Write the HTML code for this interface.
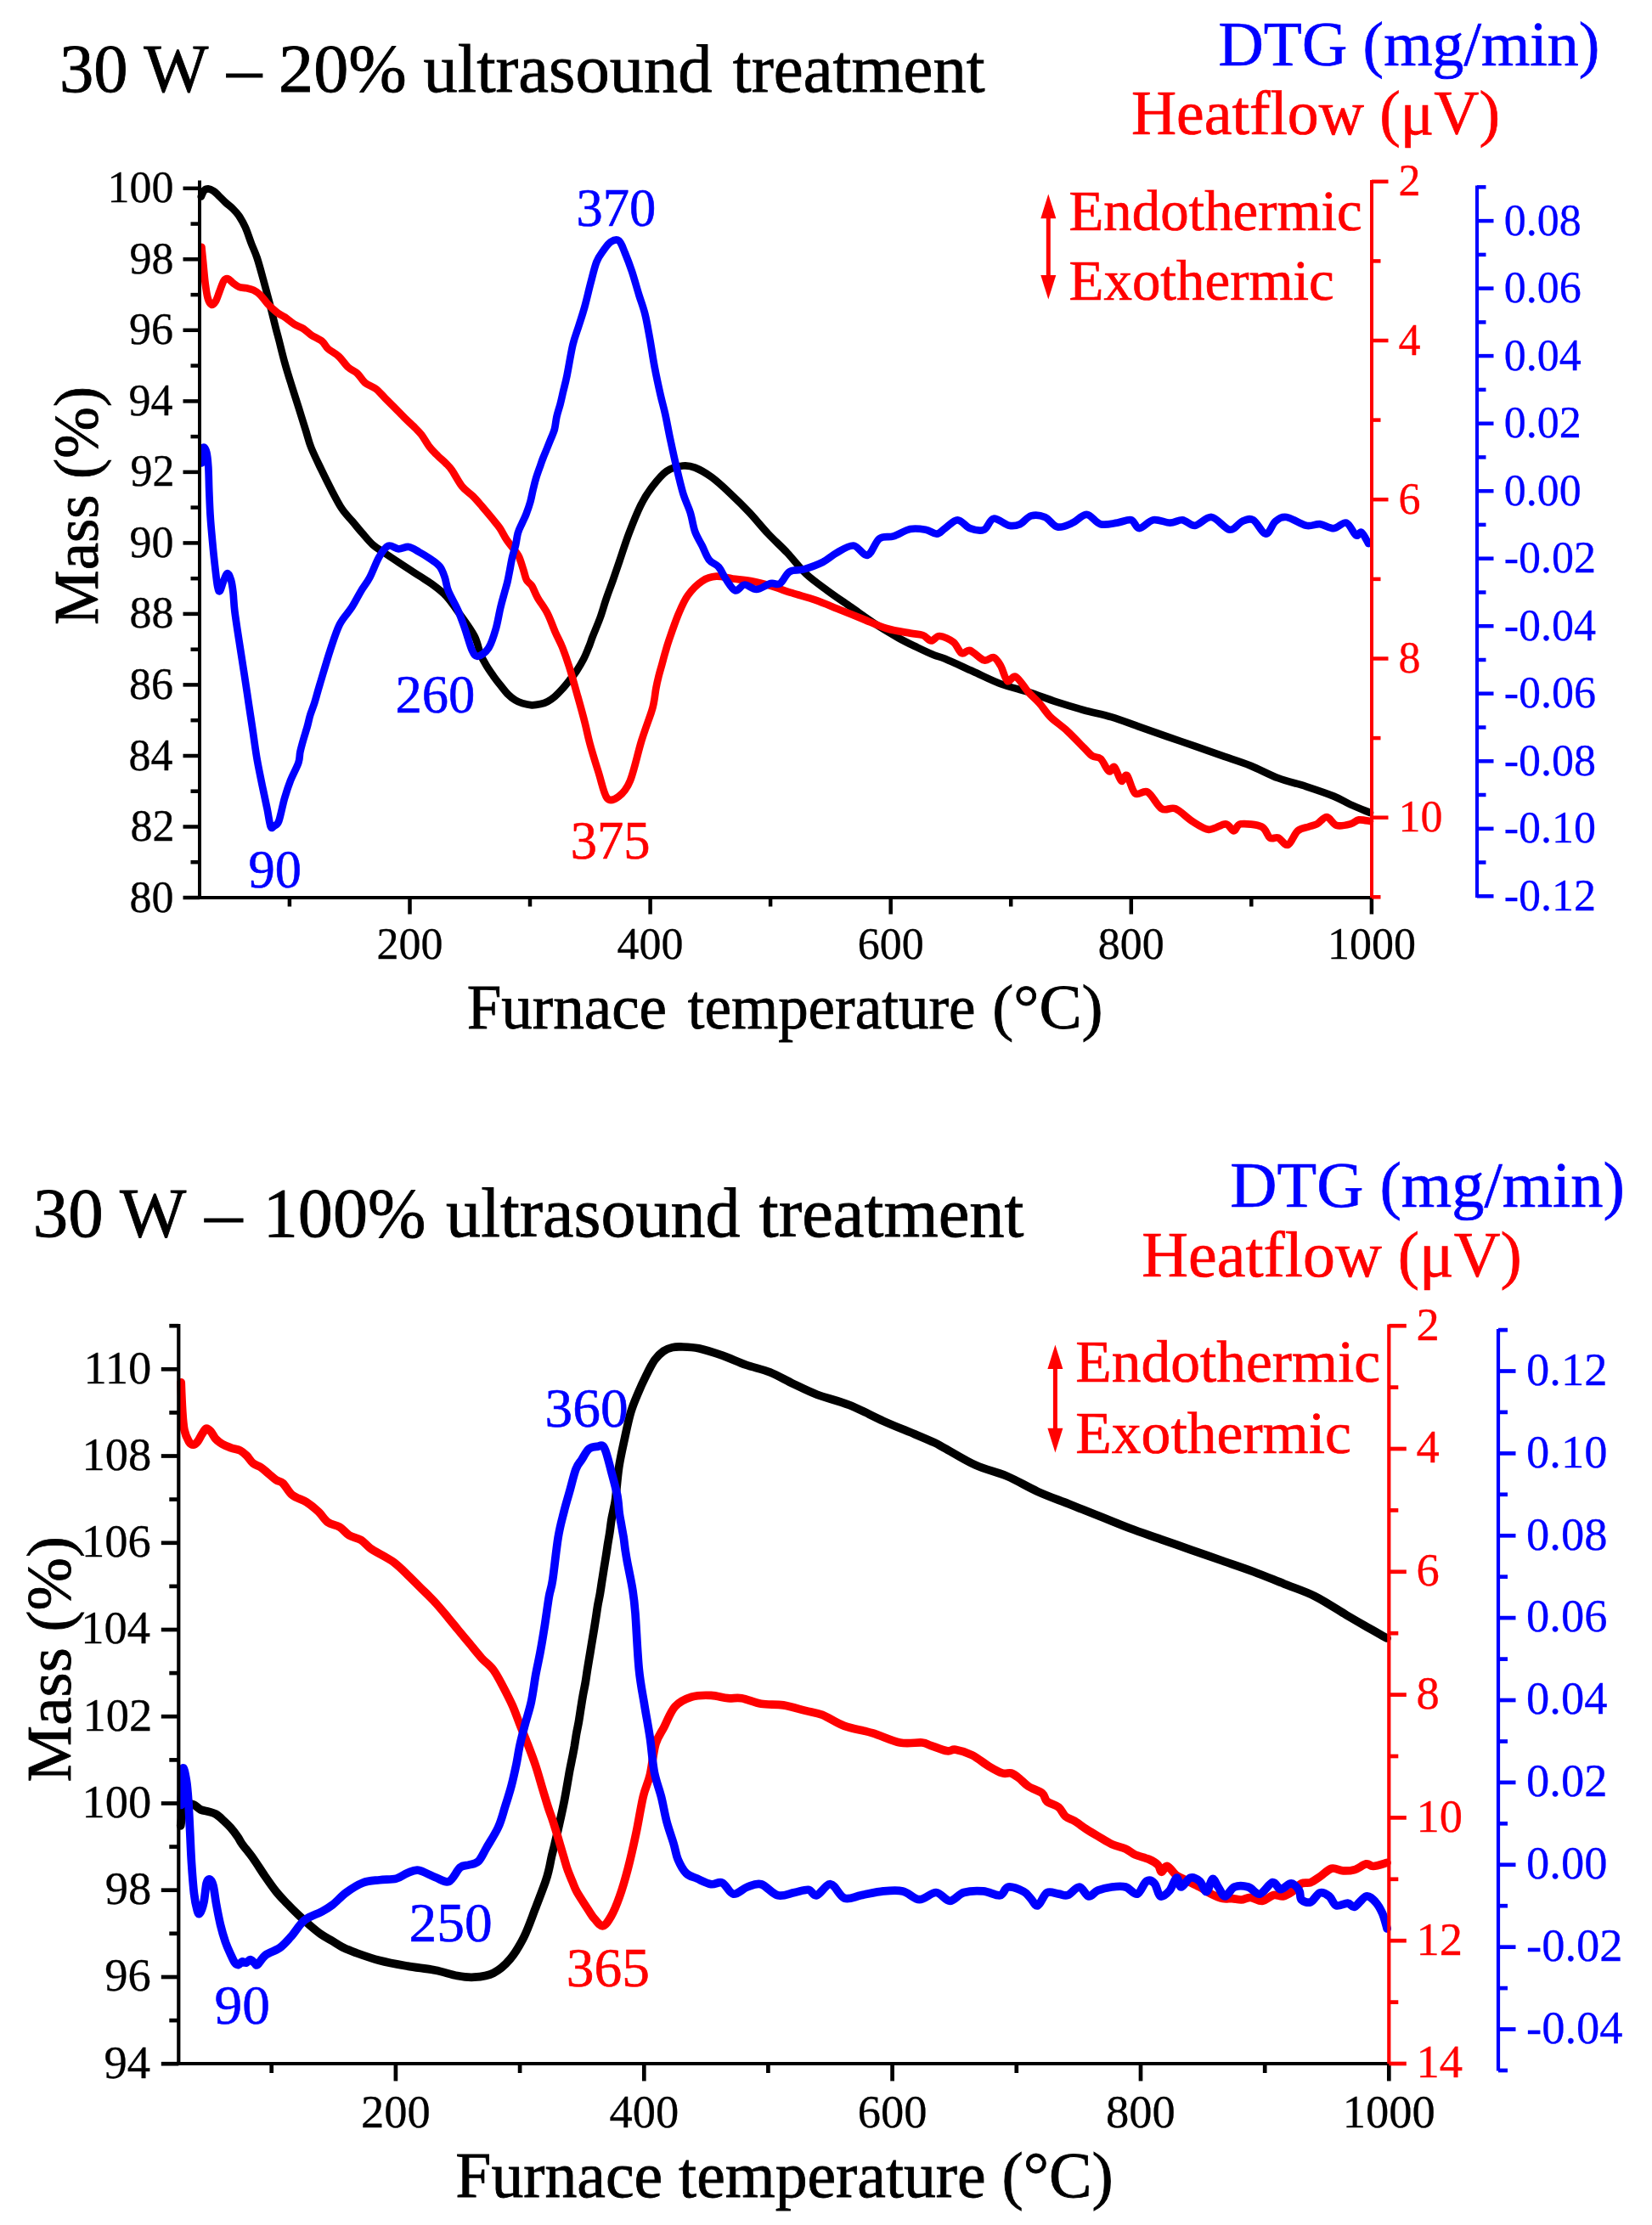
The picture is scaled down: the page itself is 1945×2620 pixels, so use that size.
<!DOCTYPE html>
<html><head><meta charset="utf-8"><title>TGA/DTG/Heatflow</title>
<style>html,body{margin:0;padding:0;background:#fff}svg{display:block}text{font-family:'Liberation Serif','Times New Roman',serif}</style></head>
<body><svg xmlns="http://www.w3.org/2000/svg" width="1945" height="2620" viewBox="0 0 1945 2620">
<rect width="1945" height="2620" fill="#fff"/>
<text transform="translate(73.8,108.3) scale(0.9988,1)" x="-3.9" y="0" font-size="80.8" fill="#000" stroke="#000" stroke-width="0.8" style="white-space:pre">30 W</text>
<text transform="translate(266.3,108.3) scale(1.0253,1)" x="0.6" y="0" font-size="80.8" fill="#000" stroke="#000" stroke-width="0.8" style="white-space:pre">–</text>
<text transform="translate(331.7,108.3) scale(1.0175,1)" x="-3.6" y="0" font-size="80.8" fill="#000" stroke="#000" stroke-width="0.8" style="white-space:pre">20%</text>
<text transform="translate(499.6,108.3) scale(0.9966,1)" x="-1.1" y="0" font-size="80.8" fill="#000" stroke="#000" stroke-width="0.8" style="white-space:pre">ultrasound</text>
<text transform="translate(863.6,108.3) scale(0.9726,1)" x="-0.8" y="0" font-size="80.8" fill="#000" stroke="#000" stroke-width="0.8" style="white-space:pre">treatment</text>
<text transform="translate(1436.7,76.9) scale(1.0078,1)" x="-2.1" y="0" font-size="73.2" fill="#00f" stroke="#00f" stroke-width="0.7" style="white-space:pre">DTG (mg/min)</text>
<text transform="translate(1334.0,158.0) scale(1.0061,1)" x="-2.1" y="0" font-size="73.2" fill="#f00" stroke="#f00" stroke-width="0.7" style="white-space:pre">Heatflow (μV)</text>
<text transform="translate(1260.5,270.7) scale(0.9831,1)" x="-2.0" y="0" font-size="68.0" fill="#f00" stroke="#f00" stroke-width="0.7" style="white-space:pre">Endothermic</text>
<text transform="translate(1260.5,352.6) scale(0.9844,1)" x="-2.0" y="0" font-size="68.0" fill="#f00" stroke="#f00" stroke-width="0.7" style="white-space:pre">Exothermic</text>
<line x1="1234.3" y1="255.2" x2="1234.3" y2="325.9" stroke="#f00" stroke-width="5" stroke-linecap="butt"/>
<polygon points="1234.3,228.5 1243.3,257.2 1225.3,257.2" fill="#f00"/>
<polygon points="1234.3,352.6 1243.3,323.9 1225.3,323.9" fill="#f00"/>
<text transform="translate(114.9,734.0) rotate(-90) scale(0.9871,1)" x="-2.1" y="0" font-size="73.8" fill="#000" stroke="#000" stroke-width="0.8">Mass (%)</text>
<text transform="translate(551.7,1210.8) scale(0.9878,1)" x="-2.1" y="0" font-size="74.0" fill="#000" stroke="#000" stroke-width="0.8" style="white-space:pre">Furnace</text>
<text transform="translate(810.4,1210.8) scale(0.9590,1)" x="-0.7" y="0" font-size="74.0" fill="#000" stroke="#000" stroke-width="0.8" style="white-space:pre">temperature</text>
<text transform="translate(1171.7,1210.8) scale(1.0152,1)" x="-3.3" y="0" font-size="74.0" fill="#000" stroke="#000" stroke-width="0.8" style="white-space:pre">(°C)</text>
<path d="M236.8,231.5 C237.4,230.3 239.0,225.7 240.4,224.2 C241.8,222.7 243.5,222.3 245.3,222.4 C247.1,222.5 249.3,223.5 251.3,224.8 C253.3,226.1 255.0,228.0 257.4,230.3 C259.8,232.6 263.1,236.1 265.9,238.7 C268.7,241.3 271.7,243.4 274.3,246.0 C276.9,248.6 279.2,250.9 281.6,254.5 C284.0,258.1 286.5,262.4 288.9,267.8 C291.3,273.2 293.8,281.2 296.1,287.2 C298.4,293.1 300.3,296.6 302.6,303.5 C304.9,310.4 307.5,320.1 309.9,328.9 C312.3,337.7 314.8,346.8 317.2,356.2 C319.6,365.6 322.5,377.9 324.4,385.2 C326.2,392.5 326.5,393.0 328.3,400.0 C330.1,407.0 332.7,418.0 335.2,427.0 C337.7,436.0 340.5,444.9 343.3,453.9 C346.1,462.9 349.1,471.9 351.9,480.9 C354.7,489.9 357.9,500.2 360.3,507.9 C362.7,515.6 363.3,519.5 366.3,527.0 C369.3,534.5 374.4,544.8 378.4,553.2 C382.4,561.6 386.5,569.7 390.5,577.4 C394.5,585.1 398.6,593.2 402.6,599.2 C406.6,605.2 410.6,608.9 414.7,613.7 C418.8,618.5 422.8,623.6 426.9,628.2 C430.9,632.8 435.0,637.9 439.0,641.5 C443.0,645.1 446.1,646.6 451.1,650.0 C456.1,653.4 462.1,657.5 469.2,662.1 C476.2,666.8 486.8,673.6 493.4,677.9 C499.9,682.2 503.2,683.8 508.5,687.8 C513.8,691.8 519.6,695.8 525.2,701.8 C530.8,707.8 536.3,716.1 541.9,724.0 C547.5,731.9 554.6,741.3 558.6,749.1 C562.6,756.9 563.6,765.2 566.0,771.0 C568.4,776.8 570.2,779.5 572.7,783.7 C575.2,787.9 578.4,792.4 581.2,796.4 C584.0,800.4 586.9,804.0 589.7,807.5 C592.5,811.0 595.3,814.8 598.1,817.6 C600.9,820.4 603.8,822.6 606.6,824.4 C609.4,826.2 611.9,827.2 615.1,828.2 C618.4,829.2 622.6,830.1 626.1,830.3 C629.6,830.4 633.2,829.8 636.3,829.1 C639.4,828.4 641.9,827.6 644.7,826.1 C647.5,824.6 650.4,822.6 653.2,820.2 C656.0,817.8 658.9,814.8 661.7,811.7 C664.5,808.6 667.4,805.0 670.2,801.5 C673.0,798.0 675.8,794.7 678.6,790.5 C681.4,786.3 684.5,781.2 687.1,776.1 C689.7,771.0 692.2,764.4 694.0,760.0 C695.8,755.6 695.5,755.3 697.6,749.9 C699.7,744.5 703.9,734.9 706.6,727.4 C709.3,719.9 711.2,712.5 713.8,705.0 C716.3,697.5 719.3,690.0 721.9,682.5 C724.5,675.0 726.5,669.0 729.6,660.0 C732.7,651.0 736.2,639.4 740.3,628.6 C744.4,617.8 749.6,604.5 754.2,595.2 C758.8,585.9 763.0,579.6 768.1,572.9 C773.2,566.2 778.8,558.9 784.8,554.8 C790.8,550.7 798.3,549.2 803.9,548.5 C809.5,547.8 812.6,548.4 818.2,550.6 C823.8,552.8 830.7,556.7 837.7,561.8 C844.7,566.9 852.6,574.3 860.0,581.3 C867.4,588.2 874.9,595.6 882.3,603.5 C889.7,611.4 897.1,620.7 904.5,628.6 C911.9,636.5 919.4,643.0 926.8,650.9 C934.2,658.8 941.2,668.5 949.1,675.9 C957.0,683.3 965.4,688.9 974.2,695.4 C983.0,701.9 992.7,708.4 1002.0,714.9 C1011.3,721.4 1020.6,728.4 1029.9,734.4 C1039.2,740.4 1049.4,746.4 1057.7,751.1 C1066.0,755.8 1073.0,759.0 1080.0,762.4 C1087.0,765.8 1094.5,769.3 1100.0,771.5 C1105.5,773.7 1105.1,772.6 1112.7,775.8 C1120.3,779.0 1134.5,785.6 1145.4,790.5 C1156.3,795.4 1167.2,801.1 1178.1,805.2 C1189.0,809.3 1199.9,811.5 1210.8,815.0 C1221.7,818.5 1232.6,822.9 1243.5,826.4 C1254.4,829.9 1265.2,833.2 1276.1,836.2 C1287.0,839.2 1297.9,841.1 1308.8,844.4 C1319.7,847.7 1330.6,852.0 1341.5,855.8 C1352.4,859.6 1363.3,863.5 1374.2,867.3 C1385.1,871.1 1396.0,874.9 1406.9,878.7 C1417.8,882.5 1428.7,886.4 1439.6,890.2 C1450.5,894.0 1461.4,897.2 1472.3,901.6 C1483.2,906.0 1494.1,912.2 1505.0,916.3 C1515.9,920.4 1526.8,922.5 1537.7,926.1 C1548.6,929.7 1561.7,934.1 1570.4,937.6 C1579.1,941.1 1582.9,944.2 1590.0,947.4 C1597.1,950.6 1609.2,955.4 1613.0,957.0" fill="none" stroke="#000" stroke-width="8.7" stroke-linejoin="round" stroke-linecap="round"/>
<path d="M237.4,290.8 C237.7,293.8 238.5,301.9 239.2,309.0 C239.9,316.1 240.7,326.1 241.6,333.2 C242.5,340.2 243.5,347.1 244.7,351.3 C245.9,355.5 247.4,358.0 248.9,358.6 C250.4,359.2 252.2,357.6 253.8,355.0 C255.4,352.4 257.0,346.9 258.6,342.9 C260.2,338.9 261.8,333.2 263.4,330.8 C265.0,328.4 266.5,327.9 268.3,328.3 C270.1,328.7 272.1,331.6 274.3,333.2 C276.5,334.8 279.0,337.0 281.6,338.0 C284.2,339.0 287.3,338.6 290.1,339.2 C292.9,339.8 295.8,340.3 298.5,341.6 C301.2,342.9 303.5,344.4 306.3,347.1 C309.1,349.8 312.0,354.5 315.3,358.0 C318.6,361.5 322.9,365.4 326.2,368.0 C329.5,370.6 332.0,371.1 335.3,373.4 C338.6,375.7 342.6,379.3 346.2,381.6 C349.8,383.9 353.8,384.9 357.1,387.0 C360.4,389.1 362.6,391.9 366.2,394.3 C369.8,396.7 375.6,398.9 378.9,401.6 C382.2,404.3 382.9,407.6 386.2,410.6 C389.5,413.6 395.0,416.1 398.9,419.7 C402.8,423.3 406.2,429.1 409.8,432.4 C413.4,435.7 417.4,436.7 420.7,439.7 C424.0,442.7 426.1,447.6 429.7,450.6 C433.3,453.6 438.6,454.9 442.5,457.9 C446.4,460.9 449.8,465.2 453.4,468.8 C457.0,472.4 460.3,475.7 464.2,479.6 C468.1,483.5 473.0,488.8 476.7,492.4 C480.4,496.0 482.9,498.1 486.2,501.3 C489.4,504.6 492.9,507.7 496.2,511.9 C499.4,516.1 502.4,522.1 505.7,526.3 C508.9,530.5 512.5,533.8 515.7,537.0 C519.0,540.2 522.4,543.0 525.2,545.8 C528.0,548.6 529.2,549.5 532.3,554.0 C535.4,558.5 539.9,567.6 544.0,572.7 C548.1,577.8 553.0,580.5 556.9,584.4 C560.8,588.3 563.7,591.8 567.4,596.1 C571.1,600.4 575.6,605.8 579.1,610.1 C582.6,614.4 585.5,617.5 588.4,621.8 C591.3,626.1 593.4,631.1 596.6,635.8 C599.8,640.5 605.0,646.6 607.5,650.0 C610.0,653.4 609.8,652.8 611.3,656.3 C612.8,659.8 614.8,666.4 616.2,670.9 C617.7,675.4 618.3,679.8 620.0,683.0 C621.7,686.2 624.2,686.6 626.3,690.0 C628.4,693.4 629.8,698.2 632.8,703.6 C635.8,709.0 641.0,715.4 644.5,722.2 C648.0,729.0 650.9,737.8 653.8,744.4 C656.7,751.0 659.3,755.2 662.0,762.0 C664.7,768.8 667.1,775.5 670.2,785.3 C673.3,795.1 677.3,809.8 680.4,820.8 C683.5,831.8 686.4,842.3 688.7,851.4 C691.0,860.5 691.8,865.7 694.4,875.3 C697.0,884.9 701.2,898.5 704.6,909.2 C708.0,919.9 710.8,934.9 714.7,939.7 C718.7,944.5 723.8,941.4 728.3,938.0 C732.8,934.6 737.4,930.3 741.9,919.3 C746.4,908.3 751.2,885.4 755.4,871.9 C759.6,858.4 764.5,845.9 767.0,838.1 C769.5,830.4 769.2,829.9 770.1,825.4 C771.0,820.9 771.4,815.8 772.3,810.9 C773.2,806.0 774.3,801.1 775.5,796.3 C776.7,791.4 778.2,786.6 779.5,781.8 C780.8,777.0 782.1,771.9 783.5,767.3 C784.9,762.6 785.1,761.2 787.6,753.9 C790.1,746.6 795.0,732.1 798.7,723.3 C802.4,714.5 805.2,707.5 809.9,701.0 C814.5,694.5 821.0,688.0 826.6,684.3 C832.2,680.6 837.3,679.2 843.3,678.7 C849.3,678.2 855.8,680.6 862.8,681.5 C869.8,682.4 877.6,682.9 885.0,684.3 C892.4,685.7 899.4,687.6 907.3,689.9 C915.2,692.2 923.6,695.4 932.4,698.2 C941.2,701.0 950.9,703.4 960.2,706.6 C969.5,709.9 978.8,714.0 988.1,717.7 C997.4,721.4 1006.6,725.2 1015.9,728.9 C1025.2,732.6 1034.5,737.2 1043.8,740.0 C1053.1,742.8 1064.5,744.3 1071.6,745.6 C1078.7,746.9 1082.4,746.5 1086.5,748.0 C1090.6,749.5 1093.0,754.3 1096.3,754.5 C1099.6,754.7 1101.8,748.7 1106.2,749.0 C1110.6,749.3 1118.2,752.7 1122.5,756.1 C1126.8,759.5 1129.0,767.6 1132.3,769.2 C1135.6,770.9 1137.7,764.6 1142.1,766.0 C1146.5,767.4 1153.9,776.0 1158.5,777.4 C1163.1,778.8 1166.6,773.0 1169.9,774.1 C1173.2,775.2 1175.4,779.3 1178.1,783.9 C1180.8,788.5 1183.2,799.7 1186.2,801.9 C1189.2,804.1 1192.0,794.8 1196.1,797.0 C1200.2,799.2 1206.2,809.8 1210.8,815.0 C1215.4,820.2 1219.4,823.2 1223.8,828.1 C1228.2,833.0 1231.5,839.0 1236.9,844.4 C1242.4,849.8 1250.0,854.7 1256.5,860.7 C1263.0,866.7 1271.2,875.5 1276.1,880.4 C1281.0,885.3 1282.7,888.0 1286.0,890.2 C1289.3,892.4 1292.5,890.4 1295.8,893.4 C1299.1,896.4 1302.9,906.5 1305.6,908.1 C1308.3,909.8 1309.6,901.4 1312.1,903.3 C1314.5,905.2 1317.8,918.0 1320.3,919.6 C1322.8,921.2 1324.1,910.7 1326.8,913.1 C1329.5,915.5 1332.5,931.0 1336.6,934.3 C1340.7,937.6 1346.1,929.7 1351.3,932.7 C1356.5,935.7 1362.2,949.0 1367.7,952.3 C1373.2,955.6 1378.0,949.8 1384.0,952.3 C1390.0,954.8 1397.0,962.9 1403.6,967.0 C1410.1,971.1 1416.8,976.2 1423.3,976.8 C1429.8,977.3 1438.0,970.0 1442.9,970.3 C1447.8,970.6 1449.7,978.4 1452.7,978.4 C1455.7,978.4 1455.3,971.1 1460.8,970.3 C1466.2,969.5 1479.7,970.8 1485.4,973.5 C1491.1,976.2 1491.9,984.4 1495.2,986.6 C1498.5,988.8 1501.5,985.2 1505.0,986.6 C1508.5,988.0 1512.6,996.2 1516.4,994.8 C1520.2,993.4 1523.8,981.9 1527.9,978.4 C1532.0,974.9 1537.1,974.9 1540.9,973.5 C1544.7,972.1 1547.2,972.2 1550.7,970.3 C1554.2,968.4 1558.4,961.8 1562.2,962.1 C1566.0,962.4 1569.0,970.5 1573.6,971.9 C1578.2,973.3 1585.6,971.4 1590.0,970.3 C1594.4,969.2 1596.0,965.9 1599.8,965.4 C1603.6,964.9 1610.8,966.7 1613.0,967.0" fill="none" stroke="#f00" stroke-width="8.7" stroke-linejoin="round" stroke-linecap="round"/>
<path d="M237.4,545.5 C237.7,542.5 238.3,529.4 239.3,527.2 C240.3,525.1 242.3,528.9 243.3,532.6 C244.3,536.3 244.8,541.8 245.3,549.5 C245.8,557.2 245.9,569.2 246.3,579.1 C246.7,589.0 247.0,598.9 247.7,608.8 C248.3,618.7 249.4,629.4 250.2,638.5 C251.0,647.6 251.7,654.5 252.7,663.2 C253.7,671.9 255.1,685.5 256.2,690.9 C257.3,696.3 257.9,697.1 259.1,695.8 C260.3,694.5 262.1,686.3 263.6,682.9 C265.1,679.5 266.6,675.1 268.0,675.1 C269.4,675.1 270.9,679.2 272.0,683.0 C273.1,686.8 273.8,691.6 274.5,697.8 C275.2,704.0 275.2,710.6 276.4,720.1 C277.6,729.6 279.6,742.4 281.5,754.7 C283.4,767.0 285.7,781.7 287.6,793.9 C289.5,806.1 291.0,816.5 292.7,827.8 C294.4,839.1 296.1,850.4 297.8,861.7 C299.5,873.0 300.9,884.3 302.9,895.6 C304.9,906.9 307.7,919.9 309.7,929.5 C311.7,939.1 313.2,945.9 314.7,953.2 C316.2,960.6 317.4,970.4 318.8,973.6 C320.2,976.8 321.4,973.6 323.0,972.5 C324.6,971.4 326.3,972.3 328.3,966.8 C330.3,961.3 332.8,947.6 335.1,939.7 C337.4,931.8 339.2,926.2 341.9,919.3 C344.6,912.4 349.5,903.8 351.4,898.1 C353.3,892.5 352.4,889.9 353.4,885.4 C354.4,880.9 355.8,875.8 357.2,870.9 C358.6,866.0 360.2,861.1 361.6,856.3 C363.0,851.4 363.8,846.6 365.3,841.8 C366.8,837.0 368.5,833.3 370.4,827.3 C372.3,821.3 373.4,816.2 376.5,806.0 C379.6,795.8 384.8,777.6 388.7,765.8 C392.6,754.0 395.7,743.6 399.9,735.2 C404.1,726.9 409.6,722.2 413.8,715.7 C418.0,709.2 421.3,702.2 424.9,696.2 C428.5,690.2 431.8,686.7 435.3,680.0 C438.9,673.3 442.6,662.3 446.2,656.1 C449.8,649.9 453.3,644.4 457.1,642.8 C460.9,641.2 465.2,646.2 469.2,646.4 C473.2,646.6 477.3,643.4 481.3,644.0 C485.3,644.6 489.4,647.8 493.4,650.0 C497.4,652.2 501.4,654.5 505.5,657.3 C509.6,660.1 514.7,663.2 517.7,667.0 C520.7,670.8 522.0,675.1 523.7,680.0 C525.4,684.9 525.4,689.8 528.0,696.2 C530.6,702.6 535.9,711.1 539.1,718.5 C542.4,725.9 544.7,732.9 547.5,740.8 C550.3,748.7 553.2,760.5 555.8,765.8 C558.3,771.1 559.5,773.3 562.8,772.8 C566.0,772.3 571.8,768.3 575.3,763.0 C578.8,757.7 581.4,748.7 583.7,740.8 C586.0,732.9 587.5,722.8 589.2,715.7 C590.9,708.6 592.5,703.2 593.9,698.1 C595.3,693.0 596.3,689.9 597.4,685.4 C598.5,680.9 599.3,675.8 600.3,670.9 C601.2,666.0 602.0,661.1 603.1,656.3 C604.2,651.4 606.0,646.6 607.1,641.8 C608.2,637.0 608.6,631.5 609.9,627.3 C611.1,623.0 613.0,619.9 614.6,616.3 C616.2,612.6 617.9,609.6 619.5,605.4 C621.1,601.2 623.0,595.8 624.4,590.9 C625.8,586.0 626.5,581.1 627.7,576.3 C628.9,571.4 630.0,566.6 631.5,561.8 C633.0,557.0 635.2,551.1 636.5,547.3 C637.8,543.5 638.2,542.2 639.5,539.0 C640.8,535.8 642.5,531.8 644.0,528.0 C645.5,524.2 647.2,520.1 648.7,516.3 C650.2,512.5 651.8,509.6 652.9,505.4 C654.0,501.2 654.3,495.8 655.4,490.9 C656.5,486.0 658.2,481.1 659.5,476.3 C660.8,471.5 661.6,467.5 662.9,461.8 C664.2,456.1 665.6,451.6 667.5,442.3 C669.4,433.0 672.1,415.9 674.4,406.1 C676.7,396.4 679.1,391.2 681.4,383.8 C683.7,376.4 686.0,369.9 688.3,361.5 C690.6,353.1 693.0,342.5 695.3,333.7 C697.6,324.9 699.8,315.1 702.3,308.6 C704.8,302.1 707.8,298.6 710.6,294.7 C713.4,290.8 716.0,286.8 719.0,284.9 C722.0,283.0 725.9,281.4 728.7,283.5 C731.5,285.6 733.2,291.5 735.7,297.5 C738.2,303.5 741.2,311.3 744.0,319.7 C746.8,328.1 749.8,339.2 752.4,347.6 C755.0,356.0 757.3,361.5 759.4,369.9 C761.5,378.2 763.0,387.5 764.9,397.7 C766.8,407.9 768.4,420.0 770.5,431.1 C772.6,442.2 775.4,455.2 777.5,464.5 C779.6,473.8 781.1,478.4 783.0,486.8 C784.9,495.2 786.5,504.5 788.6,514.7 C790.8,524.9 793.3,536.7 795.9,547.8 C798.5,558.9 801.5,572.0 804.3,581.3 C807.1,590.6 810.4,596.1 812.7,603.5 C815.0,610.9 815.9,619.3 818.2,625.8 C820.5,632.3 823.8,636.9 826.6,642.5 C829.4,648.1 831.6,655.0 834.9,659.2 C838.1,663.4 842.9,663.9 846.1,667.6 C849.4,671.3 851.1,676.9 854.4,681.5 C857.6,686.1 861.9,694.2 865.6,695.4 C869.3,696.6 872.5,688.7 876.7,688.5 C880.9,688.3 885.5,694.2 890.6,694.0 C895.7,693.8 902.6,688.2 907.3,687.1 C911.9,686.0 914.8,689.4 918.5,687.1 C922.2,684.8 925.0,676.0 929.6,673.2 C934.2,670.4 939.8,672.3 946.3,670.4 C952.8,668.5 962.1,665.2 968.6,662.0 C975.1,658.8 979.3,654.1 985.3,650.9 C991.3,647.6 998.8,642.0 1004.8,642.5 C1010.8,643.0 1016.4,655.1 1021.5,653.7 C1026.6,652.3 1030.3,637.9 1035.4,634.2 C1040.5,630.5 1046.1,633.3 1052.1,631.4 C1058.1,629.5 1065.3,624.3 1071.6,623.0 C1077.9,621.7 1084.6,622.8 1089.8,623.7 C1095.0,624.6 1099.1,628.9 1102.9,628.6 C1106.7,628.3 1108.6,624.8 1112.7,622.1 C1116.8,619.4 1122.5,612.3 1127.4,612.3 C1132.3,612.3 1136.9,620.2 1142.1,622.1 C1147.3,624.0 1153.9,625.6 1158.5,623.7 C1163.1,621.8 1165.0,611.5 1169.9,610.7 C1174.8,609.9 1182.7,617.7 1187.9,618.8 C1193.1,619.9 1196.7,619.1 1201.0,617.2 C1205.3,615.3 1209.1,608.8 1214.0,607.4 C1218.9,606.0 1225.2,606.8 1230.4,609.0 C1235.6,611.2 1239.6,619.4 1245.1,620.5 C1250.5,621.6 1257.4,618.1 1263.1,615.6 C1268.8,613.1 1274.0,605.5 1279.4,605.8 C1284.9,606.1 1289.8,615.6 1295.8,617.2 C1301.8,618.8 1309.4,616.4 1315.4,615.6 C1321.4,614.8 1327.4,611.2 1331.7,612.3 C1336.0,613.4 1337.1,622.1 1341.5,622.1 C1345.9,622.1 1351.9,613.4 1357.9,612.3 C1363.9,611.2 1371.8,615.6 1377.5,615.6 C1383.2,615.6 1387.3,611.8 1392.2,612.3 C1397.1,612.8 1401.2,619.3 1406.9,618.8 C1412.6,618.2 1419.7,608.2 1426.5,609.0 C1433.3,609.8 1441.8,622.9 1447.8,623.7 C1453.8,624.5 1457.9,615.8 1462.5,613.9 C1467.1,612.0 1470.9,609.8 1475.5,612.3 C1480.1,614.8 1485.9,628.3 1490.3,628.6 C1494.7,628.9 1497.6,617.2 1501.7,613.9 C1505.8,610.6 1508.8,608.2 1514.8,609.0 C1520.8,609.8 1531.2,617.4 1537.7,618.8 C1544.2,620.2 1548.5,616.7 1554.0,617.2 C1559.5,617.8 1565.2,622.4 1570.4,622.1 C1575.6,621.8 1580.8,614.2 1585.1,615.6 C1589.4,617.0 1593.5,628.4 1596.5,630.3 C1599.5,632.2 1600.5,625.4 1603.0,627.0 C1605.5,628.6 1609.8,637.9 1611.2,640.1" fill="none" stroke="#00f" stroke-width="8.7" stroke-linejoin="round" stroke-linecap="round"/>
<line x1="235.0" y1="212.5" x2="235.0" y2="1059.0" stroke="#000" stroke-width="4" stroke-linecap="butt"/>
<line x1="215.5" y1="1057.0" x2="235.0" y2="1057.0" stroke="#000" stroke-width="4.5" stroke-linecap="butt"/>
<text x="152.5" y="1073.5" font-size="52.0" fill="#000" stroke="#000" stroke-width="0.3" style="white-space:pre">80</text>
<line x1="215.5" y1="973.5" x2="235.0" y2="973.5" stroke="#000" stroke-width="4.5" stroke-linecap="butt"/>
<text x="153.4" y="990.0" font-size="52.0" fill="#000" stroke="#000" stroke-width="0.3" style="white-space:pre">82</text>
<line x1="215.5" y1="890.0" x2="235.0" y2="890.0" stroke="#000" stroke-width="4.5" stroke-linecap="butt"/>
<text x="151.4" y="906.5" font-size="52.0" fill="#000" stroke="#000" stroke-width="0.3" style="white-space:pre">84</text>
<line x1="215.5" y1="806.4" x2="235.0" y2="806.4" stroke="#000" stroke-width="4.5" stroke-linecap="butt"/>
<text x="152.1" y="822.9" font-size="52.0" fill="#000" stroke="#000" stroke-width="0.3" style="white-space:pre">86</text>
<line x1="215.5" y1="722.9" x2="235.0" y2="722.9" stroke="#000" stroke-width="4.5" stroke-linecap="butt"/>
<text x="152.5" y="739.4" font-size="52.0" fill="#000" stroke="#000" stroke-width="0.3" style="white-space:pre">88</text>
<line x1="215.5" y1="639.4" x2="235.0" y2="639.4" stroke="#000" stroke-width="4.5" stroke-linecap="butt"/>
<text x="152.5" y="655.9" font-size="52.0" fill="#000" stroke="#000" stroke-width="0.3" style="white-space:pre">90</text>
<line x1="215.5" y1="555.9" x2="235.0" y2="555.9" stroke="#000" stroke-width="4.5" stroke-linecap="butt"/>
<text x="153.4" y="572.4" font-size="52.0" fill="#000" stroke="#000" stroke-width="0.3" style="white-space:pre">92</text>
<line x1="215.5" y1="472.4" x2="235.0" y2="472.4" stroke="#000" stroke-width="4.5" stroke-linecap="butt"/>
<text x="151.4" y="488.9" font-size="52.0" fill="#000" stroke="#000" stroke-width="0.3" style="white-space:pre">94</text>
<line x1="215.5" y1="388.8" x2="235.0" y2="388.8" stroke="#000" stroke-width="4.5" stroke-linecap="butt"/>
<text x="152.1" y="405.3" font-size="52.0" fill="#000" stroke="#000" stroke-width="0.3" style="white-space:pre">96</text>
<line x1="215.5" y1="305.3" x2="235.0" y2="305.3" stroke="#000" stroke-width="4.5" stroke-linecap="butt"/>
<text x="152.5" y="321.8" font-size="52.0" fill="#000" stroke="#000" stroke-width="0.3" style="white-space:pre">98</text>
<line x1="215.5" y1="221.8" x2="235.0" y2="221.8" stroke="#000" stroke-width="4.5" stroke-linecap="butt"/>
<text x="126.5" y="238.3" font-size="52.0" fill="#000" stroke="#000" stroke-width="0.3" style="white-space:pre">100</text>
<line x1="224.5" y1="1015.2" x2="235.0" y2="1015.2" stroke="#000" stroke-width="4.5" stroke-linecap="butt"/>
<line x1="224.5" y1="931.7" x2="235.0" y2="931.7" stroke="#000" stroke-width="4.5" stroke-linecap="butt"/>
<line x1="224.5" y1="848.2" x2="235.0" y2="848.2" stroke="#000" stroke-width="4.5" stroke-linecap="butt"/>
<line x1="224.5" y1="764.7" x2="235.0" y2="764.7" stroke="#000" stroke-width="4.5" stroke-linecap="butt"/>
<line x1="224.5" y1="681.2" x2="235.0" y2="681.2" stroke="#000" stroke-width="4.5" stroke-linecap="butt"/>
<line x1="224.5" y1="597.6" x2="235.0" y2="597.6" stroke="#000" stroke-width="4.5" stroke-linecap="butt"/>
<line x1="224.5" y1="514.1" x2="235.0" y2="514.1" stroke="#000" stroke-width="4.5" stroke-linecap="butt"/>
<line x1="224.5" y1="430.6" x2="235.0" y2="430.6" stroke="#000" stroke-width="4.5" stroke-linecap="butt"/>
<line x1="224.5" y1="347.1" x2="235.0" y2="347.1" stroke="#000" stroke-width="4.5" stroke-linecap="butt"/>
<line x1="224.5" y1="263.6" x2="235.0" y2="263.6" stroke="#000" stroke-width="4.5" stroke-linecap="butt"/>
<line x1="233.0" y1="1057.0" x2="1615.0" y2="1057.0" stroke="#000" stroke-width="4" stroke-linecap="butt"/>
<line x1="482.5" y1="1057.0" x2="482.5" y2="1076.5" stroke="#000" stroke-width="4.5" stroke-linecap="butt"/>
<text x="443.5" y="1128.7" font-size="52.0" fill="#000" stroke="#000" stroke-width="0.3" style="white-space:pre">200</text>
<line x1="765.6" y1="1057.0" x2="765.6" y2="1076.5" stroke="#000" stroke-width="4.5" stroke-linecap="butt"/>
<text x="726.6" y="1128.7" font-size="52.0" fill="#000" stroke="#000" stroke-width="0.3" style="white-space:pre">400</text>
<line x1="1048.7" y1="1057.0" x2="1048.7" y2="1076.5" stroke="#000" stroke-width="4.5" stroke-linecap="butt"/>
<text x="1009.7" y="1128.7" font-size="52.0" fill="#000" stroke="#000" stroke-width="0.3" style="white-space:pre">600</text>
<line x1="1331.8" y1="1057.0" x2="1331.8" y2="1076.5" stroke="#000" stroke-width="4.5" stroke-linecap="butt"/>
<text x="1292.8" y="1128.7" font-size="52.0" fill="#000" stroke="#000" stroke-width="0.3" style="white-space:pre">800</text>
<line x1="1614.9" y1="1057.0" x2="1614.9" y2="1076.5" stroke="#000" stroke-width="4.5" stroke-linecap="butt"/>
<text x="1562.9" y="1128.7" font-size="52.0" fill="#000" stroke="#000" stroke-width="0.3" style="white-space:pre">1000</text>
<line x1="340.9" y1="1057.0" x2="340.9" y2="1067.5" stroke="#000" stroke-width="4.5" stroke-linecap="butt"/>
<line x1="624.0" y1="1057.0" x2="624.0" y2="1067.5" stroke="#000" stroke-width="4.5" stroke-linecap="butt"/>
<line x1="907.1" y1="1057.0" x2="907.1" y2="1067.5" stroke="#000" stroke-width="4.5" stroke-linecap="butt"/>
<line x1="1190.2" y1="1057.0" x2="1190.2" y2="1067.5" stroke="#000" stroke-width="4.5" stroke-linecap="butt"/>
<line x1="1473.3" y1="1057.0" x2="1473.3" y2="1067.5" stroke="#000" stroke-width="4.5" stroke-linecap="butt"/>
<line x1="1615.0" y1="212.0" x2="1615.0" y2="1057.0" stroke="#f00" stroke-width="4" stroke-linecap="butt"/>
<line x1="1615.0" y1="213.8" x2="1634.5" y2="213.8" stroke="#f00" stroke-width="4.5" stroke-linecap="butt"/>
<text x="1646.5" y="230.3" font-size="52.0" fill="#f00" stroke="#f00" stroke-width="0.3" style="white-space:pre">2</text>
<line x1="1615.0" y1="401.0" x2="1634.5" y2="401.0" stroke="#f00" stroke-width="4.5" stroke-linecap="butt"/>
<text x="1646.5" y="417.5" font-size="52.0" fill="#f00" stroke="#f00" stroke-width="0.3" style="white-space:pre">4</text>
<line x1="1615.0" y1="588.2" x2="1634.5" y2="588.2" stroke="#f00" stroke-width="4.5" stroke-linecap="butt"/>
<text x="1646.5" y="604.7" font-size="52.0" fill="#f00" stroke="#f00" stroke-width="0.3" style="white-space:pre">6</text>
<line x1="1615.0" y1="775.5" x2="1634.5" y2="775.5" stroke="#f00" stroke-width="4.5" stroke-linecap="butt"/>
<text x="1646.5" y="792.0" font-size="52.0" fill="#f00" stroke="#f00" stroke-width="0.3" style="white-space:pre">8</text>
<line x1="1615.0" y1="962.7" x2="1634.5" y2="962.7" stroke="#f00" stroke-width="4.5" stroke-linecap="butt"/>
<text x="1646.5" y="979.2" font-size="52.0" fill="#f00" stroke="#f00" stroke-width="0.3" style="white-space:pre">10</text>
<line x1="1615.0" y1="307.4" x2="1625.5" y2="307.4" stroke="#f00" stroke-width="4.5" stroke-linecap="butt"/>
<line x1="1615.0" y1="494.6" x2="1625.5" y2="494.6" stroke="#f00" stroke-width="4.5" stroke-linecap="butt"/>
<line x1="1615.0" y1="681.9" x2="1625.5" y2="681.9" stroke="#f00" stroke-width="4.5" stroke-linecap="butt"/>
<line x1="1615.0" y1="869.1" x2="1625.5" y2="869.1" stroke="#f00" stroke-width="4.5" stroke-linecap="butt"/>
<line x1="1615.0" y1="1056.3" x2="1625.5" y2="1056.3" stroke="#f00" stroke-width="4.5" stroke-linecap="butt"/>
<line x1="1739.0" y1="218.5" x2="1739.0" y2="1057.0" stroke="#00f" stroke-width="4" stroke-linecap="butt"/>
<line x1="1739.0" y1="260.1" x2="1758.5" y2="260.1" stroke="#00f" stroke-width="4.5" stroke-linecap="butt"/>
<text x="1770.8" y="276.6" font-size="52.0" fill="#00f" stroke="#00f" stroke-width="0.3" style="white-space:pre">0.08</text>
<line x1="1739.0" y1="339.6" x2="1758.5" y2="339.6" stroke="#00f" stroke-width="4.5" stroke-linecap="butt"/>
<text x="1770.8" y="356.1" font-size="52.0" fill="#00f" stroke="#00f" stroke-width="0.3" style="white-space:pre">0.06</text>
<line x1="1739.0" y1="419.1" x2="1758.5" y2="419.1" stroke="#00f" stroke-width="4.5" stroke-linecap="butt"/>
<text x="1770.8" y="435.6" font-size="52.0" fill="#00f" stroke="#00f" stroke-width="0.3" style="white-space:pre">0.04</text>
<line x1="1739.0" y1="498.7" x2="1758.5" y2="498.7" stroke="#00f" stroke-width="4.5" stroke-linecap="butt"/>
<text x="1770.8" y="515.2" font-size="52.0" fill="#00f" stroke="#00f" stroke-width="0.3" style="white-space:pre">0.02</text>
<line x1="1739.0" y1="578.2" x2="1758.5" y2="578.2" stroke="#00f" stroke-width="4.5" stroke-linecap="butt"/>
<text x="1770.8" y="594.7" font-size="52.0" fill="#00f" stroke="#00f" stroke-width="0.3" style="white-space:pre">0.00</text>
<line x1="1739.0" y1="657.7" x2="1758.5" y2="657.7" stroke="#00f" stroke-width="4.5" stroke-linecap="butt"/>
<text x="1770.8" y="674.2" font-size="52.0" fill="#00f" stroke="#00f" stroke-width="0.3" style="white-space:pre">-0.02</text>
<line x1="1739.0" y1="737.2" x2="1758.5" y2="737.2" stroke="#00f" stroke-width="4.5" stroke-linecap="butt"/>
<text x="1770.8" y="753.7" font-size="52.0" fill="#00f" stroke="#00f" stroke-width="0.3" style="white-space:pre">-0.04</text>
<line x1="1739.0" y1="816.7" x2="1758.5" y2="816.7" stroke="#00f" stroke-width="4.5" stroke-linecap="butt"/>
<text x="1770.8" y="833.2" font-size="52.0" fill="#00f" stroke="#00f" stroke-width="0.3" style="white-space:pre">-0.06</text>
<line x1="1739.0" y1="896.3" x2="1758.5" y2="896.3" stroke="#00f" stroke-width="4.5" stroke-linecap="butt"/>
<text x="1770.8" y="912.8" font-size="52.0" fill="#00f" stroke="#00f" stroke-width="0.3" style="white-space:pre">-0.08</text>
<line x1="1739.0" y1="975.8" x2="1758.5" y2="975.8" stroke="#00f" stroke-width="4.5" stroke-linecap="butt"/>
<text x="1770.8" y="992.3" font-size="52.0" fill="#00f" stroke="#00f" stroke-width="0.3" style="white-space:pre">-0.10</text>
<line x1="1739.0" y1="1055.3" x2="1758.5" y2="1055.3" stroke="#00f" stroke-width="4.5" stroke-linecap="butt"/>
<text x="1770.8" y="1071.8" font-size="52.0" fill="#00f" stroke="#00f" stroke-width="0.3" style="white-space:pre">-0.12</text>
<line x1="1739.0" y1="220.3" x2="1749.5" y2="220.3" stroke="#00f" stroke-width="4.5" stroke-linecap="butt"/>
<line x1="1739.0" y1="299.9" x2="1749.5" y2="299.9" stroke="#00f" stroke-width="4.5" stroke-linecap="butt"/>
<line x1="1739.0" y1="379.4" x2="1749.5" y2="379.4" stroke="#00f" stroke-width="4.5" stroke-linecap="butt"/>
<line x1="1739.0" y1="458.9" x2="1749.5" y2="458.9" stroke="#00f" stroke-width="4.5" stroke-linecap="butt"/>
<line x1="1739.0" y1="538.4" x2="1749.5" y2="538.4" stroke="#00f" stroke-width="4.5" stroke-linecap="butt"/>
<line x1="1739.0" y1="617.9" x2="1749.5" y2="617.9" stroke="#00f" stroke-width="4.5" stroke-linecap="butt"/>
<line x1="1739.0" y1="697.5" x2="1749.5" y2="697.5" stroke="#00f" stroke-width="4.5" stroke-linecap="butt"/>
<line x1="1739.0" y1="777.0" x2="1749.5" y2="777.0" stroke="#00f" stroke-width="4.5" stroke-linecap="butt"/>
<line x1="1739.0" y1="856.5" x2="1749.5" y2="856.5" stroke="#00f" stroke-width="4.5" stroke-linecap="butt"/>
<line x1="1739.0" y1="936.0" x2="1749.5" y2="936.0" stroke="#00f" stroke-width="4.5" stroke-linecap="butt"/>
<line x1="1739.0" y1="1015.5" x2="1749.5" y2="1015.5" stroke="#00f" stroke-width="4.5" stroke-linecap="butt"/>
<text transform="translate(42.7,1455.5) scale(1.0112,1)" x="-3.9" y="0" font-size="82.0" fill="#000" stroke="#000" stroke-width="0.8" style="white-space:pre">30 W</text>
<text transform="translate(240.7,1455.5) scale(1.0793,1)" x="0.6" y="0" font-size="82.0" fill="#000" stroke="#000" stroke-width="0.8" style="white-space:pre">–</text>
<text transform="translate(317.0,1455.5) scale(1.0021,1)" x="-7.2" y="0" font-size="82.0" fill="#000" stroke="#000" stroke-width="0.8" style="white-space:pre">100%</text>
<text transform="translate(526.2,1455.5) scale(1.0007,1)" x="-1.1" y="0" font-size="82.0" fill="#000" stroke="#000" stroke-width="0.8" style="white-space:pre">ultrasound</text>
<text transform="translate(894.5,1455.5) scale(1.0073,1)" x="-0.8" y="0" font-size="82.0" fill="#000" stroke="#000" stroke-width="0.8" style="white-space:pre">treatment</text>
<text transform="translate(1450.5,1421.3) scale(0.9920,1)" x="-2.2" y="0" font-size="77.0" fill="#00f" stroke="#00f" stroke-width="0.7" style="white-space:pre">DTG (mg/min)</text>
<text transform="translate(1346.5,1502.7) scale(0.9989,1)" x="-2.2" y="0" font-size="76.0" fill="#f00" stroke="#f00" stroke-width="0.7" style="white-space:pre">Heatflow (μV)</text>
<text transform="translate(1268.3,1626.6) scale(0.9928,1)" x="-2.0" y="0" font-size="70.0" fill="#f00" stroke="#f00" stroke-width="0.7" style="white-space:pre">Endothermic</text>
<text transform="translate(1268.3,1711.3) scale(0.9942,1)" x="-2.0" y="0" font-size="70.0" fill="#f00" stroke="#f00" stroke-width="0.7" style="white-space:pre">Exothermic</text>
<line x1="1242.4" y1="1610.1" x2="1242.4" y2="1683.8" stroke="#f00" stroke-width="5" stroke-linecap="butt"/>
<polygon points="1242.4,1583.4 1251.4,1612.1 1233.4,1612.1" fill="#f00"/>
<polygon points="1242.4,1710.5 1251.4,1681.8 1233.4,1681.8" fill="#f00"/>
<text transform="translate(82.8,2096.3) rotate(-90) scale(0.9998,1)" x="-2.2" y="0" font-size="75.0" fill="#000" stroke="#000" stroke-width="0.8">Mass (%)</text>
<text transform="translate(538.5,2587.0) scale(1.0030,1)" x="-2.2" y="0" font-size="75.5" fill="#000" stroke="#000" stroke-width="0.8" style="white-space:pre">Furnace temperature (°C)</text>
<path d="M212.7,2149.8 C213.2,2146.6 214.5,2134.7 215.8,2130.4 C217.1,2126.2 218.6,2125.2 220.6,2124.3 C222.6,2123.4 225.3,2123.8 227.9,2124.9 C230.5,2126.0 233.4,2129.6 236.4,2131.0 C239.4,2132.4 243.1,2132.5 246.1,2133.4 C249.1,2134.3 251.8,2134.8 254.6,2136.5 C257.4,2138.2 260.3,2141.1 263.1,2143.7 C265.9,2146.3 268.8,2148.9 271.6,2152.2 C274.4,2155.4 277.9,2160.0 280.1,2163.2 C282.3,2166.4 281.9,2167.0 284.9,2171.2 C287.9,2175.4 293.8,2182.3 298.2,2188.5 C302.6,2194.7 307.1,2202.1 311.5,2208.5 C315.9,2214.9 320.4,2221.5 324.9,2227.1 C329.3,2232.7 333.8,2237.1 338.2,2241.8 C342.6,2246.5 347.1,2250.9 351.5,2255.1 C355.9,2259.3 360.4,2263.3 364.8,2267.1 C369.2,2270.9 373.7,2274.7 378.1,2277.8 C382.5,2280.9 386.9,2283.0 391.4,2285.7 C395.8,2288.3 400.4,2291.5 404.8,2293.7 C409.2,2295.9 411.1,2296.6 418.1,2299.1 C425.1,2301.6 436.6,2305.8 446.9,2308.5 C457.1,2311.2 468.7,2313.2 479.6,2315.1 C490.5,2317.0 502.5,2318.1 512.3,2320.0 C522.1,2321.9 530.8,2325.1 538.4,2326.5 C546.0,2327.9 551.0,2328.7 558.1,2328.2 C565.2,2327.7 573.8,2326.9 580.9,2323.3 C588.0,2319.8 594.6,2314.0 600.6,2306.9 C606.6,2299.8 612.0,2290.6 616.9,2280.8 C621.8,2271.0 625.8,2259.0 630.0,2248.1 C634.2,2237.2 639.6,2223.3 642.3,2215.4 C645.0,2207.5 645.2,2205.8 646.4,2200.9 C647.6,2196.1 648.3,2191.2 649.4,2186.3 C650.5,2181.5 651.5,2178.2 653.0,2171.8 C654.5,2165.4 656.6,2156.6 658.5,2148.0 C660.4,2139.4 662.9,2128.3 664.5,2120.0 C666.1,2111.7 667.4,2103.9 668.4,2098.1 C669.4,2092.3 669.8,2089.9 670.6,2085.4 C671.5,2080.9 672.5,2075.8 673.5,2070.9 C674.5,2066.1 675.4,2061.2 676.3,2056.3 C677.1,2051.5 677.8,2046.6 678.6,2041.8 C679.5,2037.0 680.4,2032.9 681.4,2027.3 C682.4,2021.7 683.5,2013.4 684.4,2008.1 C685.2,2002.8 685.7,1999.9 686.5,1995.4 C687.3,1990.9 688.5,1985.8 689.3,1980.9 C690.1,1976.1 690.7,1971.2 691.5,1966.3 C692.3,1961.4 693.1,1956.6 693.9,1951.8 C694.7,1947.0 695.4,1942.9 696.3,1937.3 C697.2,1931.7 698.6,1923.4 699.5,1918.1 C700.4,1912.8 700.8,1909.9 701.5,1905.4 C702.2,1900.9 702.9,1895.8 703.7,1890.9 C704.5,1886.1 705.7,1881.2 706.5,1876.3 C707.3,1871.4 708.0,1866.6 708.7,1861.8 C709.5,1857.0 710.2,1852.3 711.0,1847.3 C711.8,1842.3 712.7,1836.9 713.5,1832.0 C714.3,1827.1 714.9,1822.7 715.6,1818.0 C716.4,1813.3 717.3,1808.4 718.0,1803.6 C718.7,1798.8 719.2,1793.8 720.0,1789.0 C720.8,1784.2 722.2,1778.7 723.0,1774.5 C723.8,1770.3 723.8,1771.8 724.8,1764.0 C725.8,1756.2 726.9,1739.6 728.7,1727.7 C730.5,1715.8 733.4,1703.5 735.7,1692.7 C738.0,1681.9 740.1,1671.7 742.7,1662.9 C745.3,1654.1 748.5,1647.1 751.4,1640.1 C754.3,1633.1 757.0,1627.2 760.2,1620.8 C763.4,1614.4 767.2,1606.5 770.7,1601.5 C774.2,1596.5 777.7,1593.5 781.2,1591.0 C784.7,1588.5 788.3,1587.4 791.7,1586.6 C795.1,1585.8 796.3,1585.7 801.5,1585.9 C806.7,1586.1 814.6,1586.1 822.8,1587.8 C831.0,1589.5 841.3,1593.0 850.6,1596.2 C859.9,1599.5 869.2,1604.0 878.5,1607.3 C887.8,1610.5 897.0,1612.0 906.3,1615.7 C915.6,1619.4 924.9,1625.2 934.2,1629.6 C943.5,1634.0 951.0,1638.0 962.0,1642.2 C973.0,1646.4 987.0,1649.3 1000.0,1654.5 C1013.0,1659.7 1027.3,1667.6 1040.0,1673.3 C1052.7,1679.0 1066.3,1684.3 1076.3,1688.5 C1086.3,1692.7 1094.0,1695.9 1100.0,1698.7 C1106.0,1701.5 1104.4,1701.0 1112.6,1705.4 C1120.8,1709.9 1136.9,1720.0 1149.0,1725.4 C1161.1,1730.9 1173.2,1732.9 1185.3,1738.1 C1197.4,1743.2 1209.5,1750.8 1221.6,1756.3 C1233.7,1761.8 1245.8,1766.0 1257.9,1770.8 C1270.0,1775.6 1282.2,1780.5 1294.3,1785.3 C1306.4,1790.1 1318.5,1795.2 1330.6,1799.8 C1342.7,1804.3 1354.8,1808.3 1366.9,1812.6 C1379.0,1816.8 1391.1,1821.1 1403.2,1825.3 C1415.3,1829.5 1427.5,1833.8 1439.6,1838.0 C1451.7,1842.2 1463.8,1846.2 1475.9,1850.7 C1488.0,1855.2 1500.1,1860.4 1512.2,1865.2 C1524.3,1870.0 1536.4,1873.7 1548.5,1879.8 C1560.6,1885.9 1575.2,1895.8 1584.9,1901.6 C1594.6,1907.3 1598.7,1909.7 1606.7,1914.3 C1614.7,1918.9 1628.6,1926.5 1633.0,1929.0" fill="none" stroke="#000" stroke-width="9.7" stroke-linejoin="round" stroke-linecap="round"/>
<path d="M213.2,1627.8 C213.4,1633.3 214.1,1651.7 214.7,1661.0 C215.3,1670.3 215.7,1677.7 217.0,1683.8 C218.3,1689.9 220.6,1694.5 222.3,1697.4 C224.1,1700.3 225.8,1701.2 227.5,1701.2 C229.2,1701.2 231.0,1699.6 232.8,1697.4 C234.6,1695.2 236.4,1690.8 238.1,1688.3 C239.8,1685.8 241.0,1682.7 242.7,1682.2 C244.3,1681.7 246.1,1683.3 248.0,1685.3 C249.9,1687.3 251.7,1691.9 254.0,1694.4 C256.3,1696.9 258.6,1698.6 261.6,1700.4 C264.6,1702.2 268.7,1703.7 272.2,1705.0 C275.7,1706.3 279.8,1706.5 282.8,1708.0 C285.8,1709.5 287.9,1711.5 290.4,1714.0 C292.9,1716.5 295.1,1720.8 297.9,1723.1 C300.7,1725.4 304.0,1725.7 307.0,1727.7 C310.0,1729.7 313.1,1732.7 316.1,1735.2 C319.1,1737.7 322.4,1740.9 325.2,1742.8 C328.0,1744.7 329.9,1743.6 333.1,1746.6 C336.3,1749.5 339.6,1756.8 344.2,1760.5 C348.8,1764.2 355.9,1765.7 361.0,1768.9 C366.1,1772.2 370.7,1776.1 374.9,1780.0 C379.1,1783.9 381.8,1789.5 386.0,1792.5 C390.2,1795.5 395.7,1795.5 399.9,1798.1 C404.1,1800.6 406.9,1805.2 411.1,1807.8 C415.3,1810.3 420.8,1810.8 425.0,1813.4 C429.2,1816.0 431.5,1820.0 436.1,1823.2 C440.7,1826.5 448.2,1830.1 452.8,1832.9 C457.4,1835.7 459.8,1836.7 464.0,1839.9 C468.2,1843.2 472.8,1847.5 477.9,1852.4 C483.0,1857.3 489.0,1863.5 494.6,1869.1 C500.2,1874.7 505.7,1879.8 511.3,1885.8 C516.9,1891.8 523.4,1899.8 528.0,1905.3 C532.6,1910.8 535.0,1913.9 539.2,1919.0 C543.4,1924.1 548.5,1930.1 553.1,1935.7 C557.7,1941.3 562.4,1947.3 567.0,1952.4 C571.6,1957.5 576.7,1960.7 580.9,1966.3 C585.1,1971.9 588.4,1978.8 592.1,1985.8 C595.8,1992.8 599.9,2000.7 603.2,2008.1 C606.5,2015.5 608.8,2022.3 611.8,2030.0 C614.8,2037.7 618.4,2046.2 621.5,2054.3 C624.6,2062.4 627.7,2070.4 630.4,2078.5 C633.1,2086.6 635.3,2094.7 637.7,2102.8 C640.1,2110.9 642.9,2120.3 645.0,2127.0 C647.1,2133.7 648.8,2137.9 650.5,2143.0 C652.2,2148.1 653.5,2152.5 655.0,2157.3 C656.5,2162.1 657.9,2167.0 659.3,2171.8 C660.7,2176.6 662.1,2181.5 663.6,2186.3 C665.1,2191.2 666.3,2196.1 668.0,2200.9 C669.7,2205.8 671.9,2210.9 673.8,2215.4 C675.7,2219.9 676.3,2222.7 679.4,2228.1 C682.5,2233.5 688.7,2242.8 692.1,2248.1 C695.5,2253.3 697.0,2256.3 700.0,2259.6 C703.0,2262.9 706.5,2268.4 709.8,2267.8 C713.1,2267.2 716.3,2262.0 719.6,2256.3 C722.9,2250.6 726.1,2242.7 729.4,2233.4 C732.7,2224.1 735.9,2213.2 739.2,2200.7 C742.5,2188.2 746.0,2172.5 749.0,2158.3 C752.0,2144.2 754.5,2127.2 757.2,2115.8 C759.9,2104.4 763.0,2100.0 765.4,2089.6 C767.8,2079.2 769.2,2062.9 771.9,2053.6 C774.6,2044.3 777.9,2041.3 781.7,2034.0 C785.5,2026.7 789.3,2015.5 794.8,2009.5 C800.2,2003.5 807.3,2000.3 814.4,1998.1 C821.5,1995.9 830.2,1996.1 837.3,1996.4 C844.4,1996.7 850.9,1999.2 856.9,1999.7 C862.9,2000.2 866.8,1998.6 873.3,1999.7 C879.8,2000.8 887.9,2004.8 896.1,2006.2 C904.3,2007.6 913.6,2006.5 922.3,2007.9 C931.0,2009.3 940.8,2012.5 948.4,2014.4 C956.0,2016.3 960.5,2016.3 968.1,2019.3 C975.7,2022.3 984.4,2028.9 994.2,2032.4 C1004.0,2036.0 1016.0,2037.3 1026.9,2040.6 C1037.8,2043.9 1049.8,2050.1 1059.6,2052.0 C1069.4,2053.9 1079.7,2051.4 1085.7,2052.0 C1091.7,2052.6 1090.7,2053.7 1095.6,2055.3 C1100.5,2056.9 1110.3,2061.0 1115.2,2061.8 C1120.1,2062.6 1120.1,2059.4 1125.0,2060.2 C1129.9,2061.0 1138.1,2063.4 1144.6,2066.7 C1151.1,2070.0 1158.2,2076.2 1164.2,2079.8 C1170.2,2083.4 1176.1,2086.6 1180.5,2088.0 C1184.9,2089.4 1187.2,2087.0 1190.4,2088.0 C1193.7,2089.0 1196.6,2091.4 1200.0,2094.0 C1203.4,2096.6 1206.4,2100.6 1210.9,2103.5 C1215.4,2106.4 1223.6,2108.8 1227.2,2111.7 C1230.8,2114.6 1229.5,2118.5 1232.7,2121.2 C1235.9,2123.9 1242.7,2125.1 1246.3,2128.0 C1249.9,2130.9 1251.3,2136.2 1254.5,2138.9 C1257.7,2141.6 1261.3,2141.9 1265.4,2144.4 C1269.5,2146.9 1274.5,2151.0 1279.0,2153.9 C1283.5,2156.8 1287.6,2159.2 1292.6,2162.1 C1297.6,2165.0 1303.5,2169.1 1309.0,2171.6 C1314.5,2174.1 1320.8,2175.0 1325.3,2177.1 C1329.8,2179.2 1331.7,2181.9 1336.2,2183.9 C1340.7,2185.9 1348.0,2187.3 1352.5,2189.3 C1357.0,2191.3 1360.9,2193.6 1363.4,2196.1 C1365.9,2198.6 1365.7,2204.1 1367.5,2204.3 C1369.3,2204.5 1371.3,2196.8 1374.3,2197.5 C1377.2,2198.2 1381.6,2205.7 1385.2,2208.4 C1388.8,2211.1 1391.5,2211.5 1396.1,2213.8 C1400.6,2216.1 1407.5,2219.3 1412.5,2222.0 C1417.5,2224.7 1421.6,2227.9 1426.1,2230.2 C1430.6,2232.5 1435.6,2234.7 1439.7,2235.6 C1443.8,2236.5 1447.0,2235.4 1450.6,2235.6 C1454.2,2235.8 1457.9,2237.2 1461.5,2237.0 C1465.1,2236.8 1468.3,2234.1 1472.4,2234.3 C1476.5,2234.5 1481.5,2238.9 1486.0,2238.4 C1490.5,2237.9 1495.5,2232.4 1499.6,2231.5 C1503.7,2230.6 1506.9,2233.6 1510.5,2232.9 C1514.1,2232.2 1517.8,2230.0 1521.4,2227.5 C1525.0,2225.0 1528.7,2219.7 1532.3,2217.9 C1535.9,2216.1 1539.6,2217.9 1543.2,2216.6 C1546.8,2215.2 1550.0,2212.5 1554.1,2209.8 C1558.2,2207.1 1563.2,2201.3 1567.7,2200.2 C1572.2,2199.0 1576.9,2202.7 1581.4,2202.9 C1586.0,2203.1 1590.5,2202.9 1595.0,2201.6 C1599.5,2200.2 1605.0,2195.5 1608.6,2194.8 C1612.2,2194.1 1612.7,2197.7 1616.8,2197.5 C1620.9,2197.3 1630.3,2194.1 1633.0,2193.4" fill="none" stroke="#f00" stroke-width="9.7" stroke-linejoin="round" stroke-linecap="round"/>
<path d="M213.3,2125.5 C213.6,2118.4 214.2,2087.8 215.2,2083.0 C216.2,2078.2 218.3,2090.1 219.4,2096.4 C220.5,2102.7 221.1,2110.6 221.8,2120.7 C222.5,2130.8 223.1,2145.0 223.7,2157.1 C224.3,2169.2 224.7,2181.4 225.5,2193.5 C226.3,2205.6 227.4,2220.6 228.5,2229.9 C229.6,2239.2 231.1,2245.5 232.2,2249.3 C233.3,2253.2 233.9,2254.6 235.2,2253.0 C236.5,2251.4 238.7,2245.5 240.0,2239.6 C241.3,2233.7 242.0,2222.2 243.1,2217.8 C244.2,2213.4 245.4,2212.5 246.7,2212.9 C248.0,2213.3 249.7,2215.3 251.0,2220.2 C252.3,2225.0 253.2,2234.3 254.6,2242.0 C256.0,2249.7 257.7,2258.8 259.5,2266.3 C261.3,2273.8 263.5,2281.1 265.5,2287.0 C267.5,2292.9 269.8,2297.5 271.6,2301.5 C273.4,2305.5 275.0,2309.2 276.5,2311.2 C278.0,2313.2 279.3,2313.8 280.7,2313.6 C282.1,2313.4 283.5,2310.4 285.0,2310.0 C286.5,2309.6 288.2,2311.6 289.8,2311.2 C291.4,2310.8 293.1,2307.6 294.7,2307.6 C296.3,2307.6 298.1,2310.2 299.5,2311.2 C300.9,2312.2 300.9,2315.0 303.1,2313.5 C305.3,2312.0 308.5,2305.3 312.9,2302.0 C317.2,2298.7 324.3,2297.3 329.2,2293.8 C334.1,2290.3 337.4,2286.2 342.3,2280.8 C347.2,2275.4 352.6,2266.0 358.6,2261.1 C364.6,2256.2 372.9,2254.3 378.3,2251.3 C383.8,2248.3 386.4,2247.0 391.3,2243.2 C396.2,2239.4 401.7,2232.9 407.7,2228.5 C413.7,2224.1 420.8,2219.5 427.3,2217.0 C433.8,2214.5 440.4,2214.5 446.9,2213.7 C453.4,2212.9 461.1,2213.4 466.5,2212.1 C471.9,2210.8 475.2,2207.2 479.6,2205.6 C484.0,2204.0 487.2,2201.5 492.7,2202.3 C498.1,2203.1 506.3,2208.3 512.3,2210.5 C518.3,2212.7 523.7,2217.3 528.6,2215.4 C533.5,2213.5 537.8,2202.2 541.7,2199.0 C545.6,2195.8 548.4,2197.2 552.0,2196.0 C555.6,2194.8 559.7,2195.2 563.2,2191.8 C566.7,2188.4 569.0,2182.3 572.9,2175.6 C576.8,2168.9 583.1,2159.5 586.7,2151.4 C590.4,2143.3 592.2,2135.2 594.8,2127.1 C597.4,2119.0 600.0,2110.9 602.1,2102.8 C604.2,2094.7 606.0,2086.6 607.7,2078.5 C609.4,2070.4 610.4,2062.4 612.2,2054.3 C614.0,2046.2 616.1,2038.4 618.3,2030.0 C620.5,2021.6 623.3,2013.8 625.4,2004.1 C627.5,1994.4 629.0,1981.6 630.8,1971.7 C632.6,1961.8 634.4,1954.6 636.2,1944.7 C638.0,1934.8 639.9,1923.2 641.6,1912.4 C643.3,1901.6 644.9,1888.6 646.4,1880.0 C647.9,1871.4 648.8,1872.4 650.6,1860.8 C652.4,1849.2 654.9,1824.1 657.1,1810.6 C659.3,1797.1 661.7,1789.3 664.0,1780.0 C666.3,1770.7 668.7,1763.2 671.0,1754.9 C673.3,1746.6 675.7,1735.9 678.0,1729.9 C680.3,1723.9 682.4,1722.7 684.9,1718.7 C687.4,1714.8 690.3,1708.8 693.3,1706.2 C696.3,1703.7 700.0,1703.6 703.0,1703.4 C706.0,1703.2 708.6,1699.9 711.4,1704.8 C714.2,1709.7 717.2,1723.4 719.7,1732.7 C722.2,1742.0 725.1,1752.3 726.7,1760.5 C728.3,1768.7 728.4,1775.8 729.2,1781.8 C730.0,1787.8 730.9,1791.4 731.7,1796.3 C732.6,1801.2 733.5,1806.1 734.3,1810.9 C735.0,1815.8 735.5,1820.9 736.2,1825.4 C736.9,1829.9 736.9,1830.3 738.3,1838.1 C739.7,1845.8 743.2,1861.6 744.8,1871.9 C746.4,1882.2 746.8,1884.4 748.0,1900.0 C749.2,1915.6 750.5,1947.4 752.3,1965.4 C754.1,1983.4 756.6,1994.3 758.8,2007.9 C761.0,2021.5 763.5,2034.0 765.4,2047.1 C767.3,2060.2 768.1,2074.9 770.3,2086.3 C772.5,2097.8 776.0,2106.0 778.5,2115.8 C781.0,2125.6 782.5,2135.9 785.0,2145.2 C787.5,2154.4 791.0,2164.0 793.2,2171.3 C795.4,2178.7 795.7,2183.6 798.1,2189.3 C800.5,2195.0 804.1,2201.9 807.9,2205.7 C811.7,2209.5 816.1,2210.0 821.0,2212.2 C825.9,2214.4 832.4,2217.9 837.3,2218.7 C842.2,2219.5 846.0,2215.2 850.4,2217.1 C854.8,2219.0 858.6,2229.4 863.5,2230.2 C868.4,2231.0 874.4,2223.9 879.8,2222.0 C885.2,2220.1 890.1,2217.1 896.1,2218.7 C902.1,2220.3 909.2,2230.2 915.8,2231.8 C922.3,2233.4 929.4,2229.6 935.4,2228.5 C941.4,2227.4 947.4,2224.8 951.7,2225.3 C956.1,2225.9 957.1,2232.9 961.5,2231.8 C965.9,2230.7 972.4,2218.1 977.9,2218.7 C983.4,2219.2 988.2,2232.9 994.2,2235.1 C1000.2,2237.3 1006.2,2233.2 1013.8,2231.8 C1021.4,2230.4 1031.8,2227.7 1040.0,2226.9 C1048.2,2226.1 1055.8,2225.3 1062.9,2226.9 C1070.0,2228.5 1076.0,2236.4 1082.5,2236.7 C1089.0,2237.0 1096.1,2228.2 1102.1,2228.5 C1108.1,2228.8 1113.0,2238.3 1118.4,2238.3 C1123.9,2238.3 1128.2,2230.4 1134.8,2228.5 C1141.3,2226.6 1150.6,2226.3 1157.7,2226.9 C1164.8,2227.5 1172.4,2232.6 1177.3,2231.8 C1182.2,2231.0 1182.4,2222.7 1187.1,2222.0 C1191.8,2221.3 1201.0,2225.2 1205.4,2227.5 C1209.8,2229.8 1210.9,2232.9 1213.6,2235.6 C1216.3,2238.3 1218.6,2244.9 1221.8,2243.8 C1225.0,2242.7 1228.6,2231.1 1232.7,2228.8 C1236.8,2226.5 1242.2,2229.8 1246.3,2230.2 C1250.4,2230.6 1253.1,2232.9 1257.2,2231.5 C1261.3,2230.1 1266.7,2221.8 1270.8,2222.0 C1274.9,2222.2 1278.1,2232.2 1281.7,2232.9 C1285.3,2233.6 1288.0,2227.9 1292.6,2226.1 C1297.1,2224.3 1303.5,2222.7 1309.0,2222.0 C1314.5,2221.3 1320.3,2220.6 1325.3,2222.0 C1330.3,2223.4 1334.8,2231.3 1338.9,2230.2 C1343.0,2229.1 1346.4,2217.2 1349.8,2215.2 C1353.2,2213.1 1356.7,2214.9 1359.4,2217.9 C1362.1,2220.9 1363.2,2231.5 1366.2,2232.9 C1369.2,2234.3 1373.9,2229.7 1377.1,2226.1 C1380.3,2222.5 1382.9,2211.8 1385.2,2211.1 C1387.5,2210.4 1388.0,2222.0 1390.7,2222.0 C1393.4,2222.0 1398.0,2212.2 1401.6,2211.1 C1405.2,2210.0 1409.3,2212.5 1412.5,2215.2 C1415.7,2217.9 1418.1,2227.9 1420.6,2227.5 C1423.1,2227.1 1425.2,2213.4 1427.5,2212.5 C1429.8,2211.6 1431.8,2218.6 1434.3,2222.0 C1436.8,2225.4 1439.2,2232.9 1442.4,2232.9 C1445.6,2232.9 1448.8,2223.8 1453.3,2222.0 C1457.8,2220.2 1464.7,2220.6 1469.7,2222.0 C1474.7,2223.4 1478.5,2231.1 1483.3,2230.2 C1488.1,2229.3 1494.2,2217.5 1498.3,2216.6 C1502.4,2215.7 1504.2,2224.5 1507.8,2224.7 C1511.4,2224.9 1516.5,2217.7 1520.1,2217.9 C1523.7,2218.1 1527.6,2222.9 1529.6,2226.1 C1531.6,2229.3 1530.0,2234.7 1532.3,2237.0 C1534.6,2239.3 1539.6,2241.1 1543.2,2239.7 C1546.8,2238.3 1550.5,2229.9 1554.1,2228.8 C1557.7,2227.7 1561.8,2230.4 1565.0,2232.9 C1568.2,2235.4 1569.6,2242.4 1573.2,2243.8 C1576.8,2245.2 1583.2,2240.9 1586.8,2241.1 C1590.4,2241.3 1591.4,2246.6 1595.0,2245.2 C1598.6,2243.8 1604.5,2233.8 1608.6,2232.9 C1612.7,2232.0 1616.3,2236.3 1619.5,2239.7 C1622.7,2243.1 1625.4,2248.1 1627.7,2253.3 C1630.0,2258.5 1632.2,2268.1 1633.1,2271.0" fill="none" stroke="#00f" stroke-width="9.7" stroke-linejoin="round" stroke-linecap="round"/>
<line x1="210.3" y1="1559.0" x2="210.3" y2="2432.1" stroke="#000" stroke-width="4.2" stroke-linecap="butt"/>
<line x1="189.8" y1="2430.2" x2="210.3" y2="2430.2" stroke="#000" stroke-width="4.7" stroke-linecap="butt"/>
<text x="122.5" y="2446.5" font-size="54.5" fill="#000" stroke="#000" stroke-width="0.3" style="white-space:pre">94</text>
<line x1="189.8" y1="2328.0" x2="210.3" y2="2328.0" stroke="#000" stroke-width="4.7" stroke-linecap="butt"/>
<text x="123.3" y="2344.3" font-size="54.5" fill="#000" stroke="#000" stroke-width="0.3" style="white-space:pre">96</text>
<line x1="189.8" y1="2225.7" x2="210.3" y2="2225.7" stroke="#000" stroke-width="4.7" stroke-linecap="butt"/>
<text x="123.7" y="2242.0" font-size="54.5" fill="#000" stroke="#000" stroke-width="0.3" style="white-space:pre">98</text>
<line x1="189.8" y1="2123.5" x2="210.3" y2="2123.5" stroke="#000" stroke-width="4.7" stroke-linecap="butt"/>
<text x="96.5" y="2139.8" font-size="54.5" fill="#000" stroke="#000" stroke-width="0.3" style="white-space:pre">100</text>
<line x1="189.8" y1="2021.2" x2="210.3" y2="2021.2" stroke="#000" stroke-width="4.7" stroke-linecap="butt"/>
<text x="97.4" y="2037.5" font-size="54.5" fill="#000" stroke="#000" stroke-width="0.3" style="white-space:pre">102</text>
<line x1="189.8" y1="1919.0" x2="210.3" y2="1919.0" stroke="#000" stroke-width="4.7" stroke-linecap="butt"/>
<text x="95.3" y="1935.3" font-size="54.5" fill="#000" stroke="#000" stroke-width="0.3" style="white-space:pre">104</text>
<line x1="189.8" y1="1816.8" x2="210.3" y2="1816.8" stroke="#000" stroke-width="4.7" stroke-linecap="butt"/>
<text x="96.0" y="1833.1" font-size="54.5" fill="#000" stroke="#000" stroke-width="0.3" style="white-space:pre">106</text>
<line x1="189.8" y1="1714.5" x2="210.3" y2="1714.5" stroke="#000" stroke-width="4.7" stroke-linecap="butt"/>
<text x="96.5" y="1730.8" font-size="54.5" fill="#000" stroke="#000" stroke-width="0.3" style="white-space:pre">108</text>
<line x1="189.8" y1="1612.3" x2="210.3" y2="1612.3" stroke="#000" stroke-width="4.7" stroke-linecap="butt"/>
<text x="98.5" y="1628.6" font-size="54.5" fill="#000" stroke="#000" stroke-width="0.3" style="white-space:pre">110</text>
<line x1="199.3" y1="2379.1" x2="210.3" y2="2379.1" stroke="#000" stroke-width="4.7" stroke-linecap="butt"/>
<line x1="199.3" y1="2276.8" x2="210.3" y2="2276.8" stroke="#000" stroke-width="4.7" stroke-linecap="butt"/>
<line x1="199.3" y1="2174.6" x2="210.3" y2="2174.6" stroke="#000" stroke-width="4.7" stroke-linecap="butt"/>
<line x1="199.3" y1="2072.4" x2="210.3" y2="2072.4" stroke="#000" stroke-width="4.7" stroke-linecap="butt"/>
<line x1="199.3" y1="1970.1" x2="210.3" y2="1970.1" stroke="#000" stroke-width="4.7" stroke-linecap="butt"/>
<line x1="199.3" y1="1867.9" x2="210.3" y2="1867.9" stroke="#000" stroke-width="4.7" stroke-linecap="butt"/>
<line x1="199.3" y1="1765.6" x2="210.3" y2="1765.6" stroke="#000" stroke-width="4.7" stroke-linecap="butt"/>
<line x1="199.3" y1="1663.4" x2="210.3" y2="1663.4" stroke="#000" stroke-width="4.7" stroke-linecap="butt"/>
<line x1="199.3" y1="1561.2" x2="210.3" y2="1561.2" stroke="#000" stroke-width="4.7" stroke-linecap="butt"/>
<line x1="208.2" y1="2430.0" x2="1635.3" y2="2430.0" stroke="#000" stroke-width="4.2" stroke-linecap="butt"/>
<line x1="465.9" y1="2430.0" x2="465.9" y2="2450.5" stroke="#000" stroke-width="4.7" stroke-linecap="butt"/>
<text x="425.0" y="2504.5" font-size="54.5" fill="#000" stroke="#000" stroke-width="0.3" style="white-space:pre">200</text>
<line x1="758.3" y1="2430.0" x2="758.3" y2="2450.5" stroke="#000" stroke-width="4.7" stroke-linecap="butt"/>
<text x="717.4" y="2504.5" font-size="54.5" fill="#000" stroke="#000" stroke-width="0.3" style="white-space:pre">400</text>
<line x1="1050.6" y1="2430.0" x2="1050.6" y2="2450.5" stroke="#000" stroke-width="4.7" stroke-linecap="butt"/>
<text x="1009.7" y="2504.5" font-size="54.5" fill="#000" stroke="#000" stroke-width="0.3" style="white-space:pre">600</text>
<line x1="1343.0" y1="2430.0" x2="1343.0" y2="2450.5" stroke="#000" stroke-width="4.7" stroke-linecap="butt"/>
<text x="1302.1" y="2504.5" font-size="54.5" fill="#000" stroke="#000" stroke-width="0.3" style="white-space:pre">800</text>
<line x1="1635.3" y1="2430.0" x2="1635.3" y2="2450.5" stroke="#000" stroke-width="4.7" stroke-linecap="butt"/>
<text x="1580.8" y="2504.5" font-size="54.5" fill="#000" stroke="#000" stroke-width="0.3" style="white-space:pre">1000</text>
<line x1="319.7" y1="2430.0" x2="319.7" y2="2441.0" stroke="#000" stroke-width="4.7" stroke-linecap="butt"/>
<line x1="612.1" y1="2430.0" x2="612.1" y2="2441.0" stroke="#000" stroke-width="4.7" stroke-linecap="butt"/>
<line x1="904.4" y1="2430.0" x2="904.4" y2="2441.0" stroke="#000" stroke-width="4.7" stroke-linecap="butt"/>
<line x1="1196.8" y1="2430.0" x2="1196.8" y2="2441.0" stroke="#000" stroke-width="4.7" stroke-linecap="butt"/>
<line x1="1489.2" y1="2430.0" x2="1489.2" y2="2441.0" stroke="#000" stroke-width="4.7" stroke-linecap="butt"/>
<line x1="1635.3" y1="1559.5" x2="1635.3" y2="2430.0" stroke="#f00" stroke-width="4.2" stroke-linecap="butt"/>
<line x1="1635.3" y1="1561.2" x2="1655.8" y2="1561.2" stroke="#f00" stroke-width="4.7" stroke-linecap="butt"/>
<text x="1667.5" y="1577.5" font-size="54.5" fill="#f00" stroke="#f00" stroke-width="0.3" style="white-space:pre">2</text>
<line x1="1635.3" y1="1706.0" x2="1655.8" y2="1706.0" stroke="#f00" stroke-width="4.7" stroke-linecap="butt"/>
<text x="1667.5" y="1722.3" font-size="54.5" fill="#f00" stroke="#f00" stroke-width="0.3" style="white-space:pre">4</text>
<line x1="1635.3" y1="1850.8" x2="1655.8" y2="1850.8" stroke="#f00" stroke-width="4.7" stroke-linecap="butt"/>
<text x="1667.5" y="1867.1" font-size="54.5" fill="#f00" stroke="#f00" stroke-width="0.3" style="white-space:pre">6</text>
<line x1="1635.3" y1="1995.6" x2="1655.8" y2="1995.6" stroke="#f00" stroke-width="4.7" stroke-linecap="butt"/>
<text x="1667.5" y="2011.9" font-size="54.5" fill="#f00" stroke="#f00" stroke-width="0.3" style="white-space:pre">8</text>
<line x1="1635.3" y1="2140.4" x2="1655.8" y2="2140.4" stroke="#f00" stroke-width="4.7" stroke-linecap="butt"/>
<text x="1667.5" y="2156.7" font-size="54.5" fill="#f00" stroke="#f00" stroke-width="0.3" style="white-space:pre">10</text>
<line x1="1635.3" y1="2285.2" x2="1655.8" y2="2285.2" stroke="#f00" stroke-width="4.7" stroke-linecap="butt"/>
<text x="1667.5" y="2301.5" font-size="54.5" fill="#f00" stroke="#f00" stroke-width="0.3" style="white-space:pre">12</text>
<line x1="1635.3" y1="2430.0" x2="1655.8" y2="2430.0" stroke="#f00" stroke-width="4.7" stroke-linecap="butt"/>
<text x="1667.5" y="2446.3" font-size="54.5" fill="#f00" stroke="#f00" stroke-width="0.3" style="white-space:pre">14</text>
<line x1="1635.3" y1="1633.6" x2="1646.3" y2="1633.6" stroke="#f00" stroke-width="4.7" stroke-linecap="butt"/>
<line x1="1635.3" y1="1778.4" x2="1646.3" y2="1778.4" stroke="#f00" stroke-width="4.7" stroke-linecap="butt"/>
<line x1="1635.3" y1="1923.2" x2="1646.3" y2="1923.2" stroke="#f00" stroke-width="4.7" stroke-linecap="butt"/>
<line x1="1635.3" y1="2068.0" x2="1646.3" y2="2068.0" stroke="#f00" stroke-width="4.7" stroke-linecap="butt"/>
<line x1="1635.3" y1="2212.8" x2="1646.3" y2="2212.8" stroke="#f00" stroke-width="4.7" stroke-linecap="butt"/>
<line x1="1635.3" y1="2357.6" x2="1646.3" y2="2357.6" stroke="#f00" stroke-width="4.7" stroke-linecap="butt"/>
<line x1="1764.0" y1="1565.0" x2="1764.0" y2="2438.5" stroke="#00f" stroke-width="4.2" stroke-linecap="butt"/>
<line x1="1764.0" y1="1614.5" x2="1784.5" y2="1614.5" stroke="#00f" stroke-width="4.7" stroke-linecap="butt"/>
<text x="1797.0" y="1630.8" font-size="54.5" fill="#00f" stroke="#00f" stroke-width="0.3" style="white-space:pre">0.12</text>
<line x1="1764.0" y1="1711.4" x2="1784.5" y2="1711.4" stroke="#00f" stroke-width="4.7" stroke-linecap="butt"/>
<text x="1797.0" y="1727.7" font-size="54.5" fill="#00f" stroke="#00f" stroke-width="0.3" style="white-space:pre">0.10</text>
<line x1="1764.0" y1="1808.3" x2="1784.5" y2="1808.3" stroke="#00f" stroke-width="4.7" stroke-linecap="butt"/>
<text x="1797.0" y="1824.6" font-size="54.5" fill="#00f" stroke="#00f" stroke-width="0.3" style="white-space:pre">0.08</text>
<line x1="1764.0" y1="1905.1" x2="1784.5" y2="1905.1" stroke="#00f" stroke-width="4.7" stroke-linecap="butt"/>
<text x="1797.0" y="1921.4" font-size="54.5" fill="#00f" stroke="#00f" stroke-width="0.3" style="white-space:pre">0.06</text>
<line x1="1764.0" y1="2002.0" x2="1784.5" y2="2002.0" stroke="#00f" stroke-width="4.7" stroke-linecap="butt"/>
<text x="1797.0" y="2018.3" font-size="54.5" fill="#00f" stroke="#00f" stroke-width="0.3" style="white-space:pre">0.04</text>
<line x1="1764.0" y1="2098.9" x2="1784.5" y2="2098.9" stroke="#00f" stroke-width="4.7" stroke-linecap="butt"/>
<text x="1797.0" y="2115.2" font-size="54.5" fill="#00f" stroke="#00f" stroke-width="0.3" style="white-space:pre">0.02</text>
<line x1="1764.0" y1="2195.8" x2="1784.5" y2="2195.8" stroke="#00f" stroke-width="4.7" stroke-linecap="butt"/>
<text x="1797.0" y="2212.1" font-size="54.5" fill="#00f" stroke="#00f" stroke-width="0.3" style="white-space:pre">0.00</text>
<line x1="1764.0" y1="2292.7" x2="1784.5" y2="2292.7" stroke="#00f" stroke-width="4.7" stroke-linecap="butt"/>
<text x="1797.0" y="2309.0" font-size="54.5" fill="#00f" stroke="#00f" stroke-width="0.3" style="white-space:pre">-0.02</text>
<line x1="1764.0" y1="2389.5" x2="1784.5" y2="2389.5" stroke="#00f" stroke-width="4.7" stroke-linecap="butt"/>
<text x="1797.0" y="2405.8" font-size="54.5" fill="#00f" stroke="#00f" stroke-width="0.3" style="white-space:pre">-0.04</text>
<line x1="1764.0" y1="1566.1" x2="1775.0" y2="1566.1" stroke="#00f" stroke-width="4.7" stroke-linecap="butt"/>
<line x1="1764.0" y1="1662.9" x2="1775.0" y2="1662.9" stroke="#00f" stroke-width="4.7" stroke-linecap="butt"/>
<line x1="1764.0" y1="1759.8" x2="1775.0" y2="1759.8" stroke="#00f" stroke-width="4.7" stroke-linecap="butt"/>
<line x1="1764.0" y1="1856.7" x2="1775.0" y2="1856.7" stroke="#00f" stroke-width="4.7" stroke-linecap="butt"/>
<line x1="1764.0" y1="1953.6" x2="1775.0" y2="1953.6" stroke="#00f" stroke-width="4.7" stroke-linecap="butt"/>
<line x1="1764.0" y1="2050.5" x2="1775.0" y2="2050.5" stroke="#00f" stroke-width="4.7" stroke-linecap="butt"/>
<line x1="1764.0" y1="2147.3" x2="1775.0" y2="2147.3" stroke="#00f" stroke-width="4.7" stroke-linecap="butt"/>
<line x1="1764.0" y1="2244.2" x2="1775.0" y2="2244.2" stroke="#00f" stroke-width="4.7" stroke-linecap="butt"/>
<line x1="1764.0" y1="2341.1" x2="1775.0" y2="2341.1" stroke="#00f" stroke-width="4.7" stroke-linecap="butt"/>
<line x1="1764.0" y1="2438.0" x2="1775.0" y2="2438.0" stroke="#00f" stroke-width="4.7" stroke-linecap="butt"/>
<text x="678.4" y="266.0" font-size="62.5" fill="#00f" stroke="#00f" stroke-width="0.6" style="white-space:pre">370</text>
<text x="465.6" y="838.6" font-size="62.5" fill="#00f" stroke="#00f" stroke-width="0.6" style="white-space:pre">260</text>
<text x="292.4" y="1044.7" font-size="62.5" fill="#00f" stroke="#00f" stroke-width="0.6" style="white-space:pre">90</text>
<text x="671.7" y="1010.8" font-size="62.5" fill="#f00" stroke="#f00" stroke-width="0.6" style="white-space:pre">375</text>
<text x="641.5" y="1680.3" font-size="65.4" fill="#00f" stroke="#00f" stroke-width="0.6" style="white-space:pre">360</text>
<text x="481.6" y="2285.7" font-size="65.4" fill="#00f" stroke="#00f" stroke-width="0.6" style="white-space:pre">250</text>
<text x="252.6" y="2382.8" font-size="65.4" fill="#00f" stroke="#00f" stroke-width="0.6" style="white-space:pre">90</text>
<text x="666.8" y="2339.0" font-size="65.4" fill="#f00" stroke="#f00" stroke-width="0.6" style="white-space:pre">365</text>
</svg></body></html>
